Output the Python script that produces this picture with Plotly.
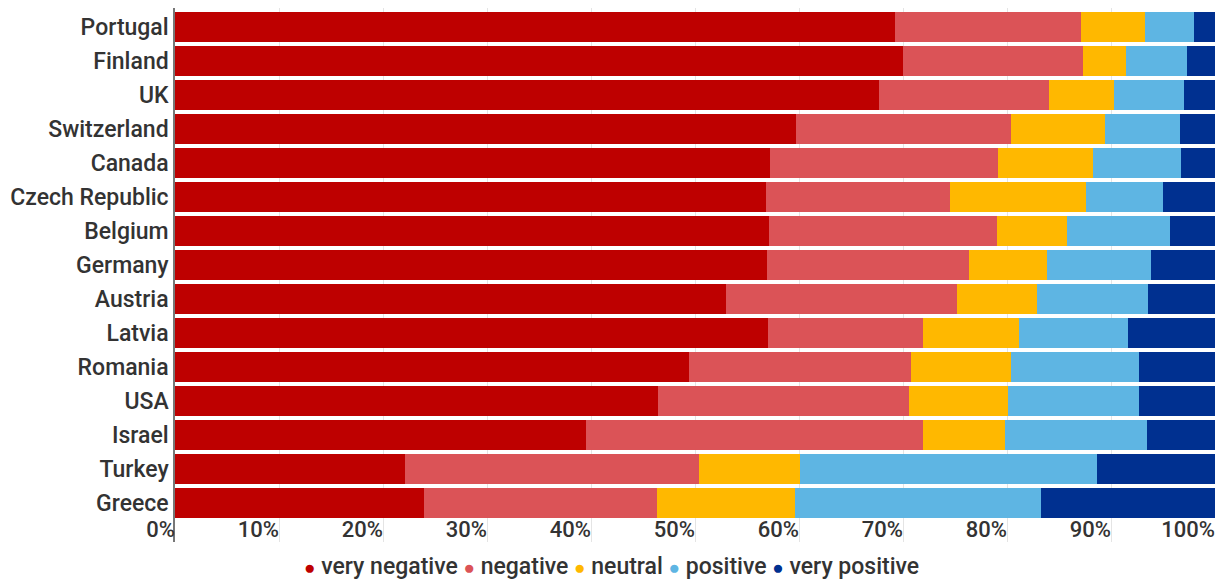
import plotly.graph_objects as go

countries = ["Portugal", "Finland", "UK", "Switzerland", "Canada", "Czech Republic",
             "Belgium", "Germany", "Austria", "Latvia", "Romania", "USA", "Israel",
             "Turkey", "Greece"]

very_negative = [69.2, 70.0, 67.7, 59.7, 57.2, 56.8, 57.1, 56.9, 53.0, 57.0, 49.4, 46.4, 39.5, 22.1, 23.9]
negative      = [17.9, 17.3, 16.3, 20.7, 21.9, 17.7, 21.9, 19.4, 22.2, 14.9, 21.4, 24.2, 32.4, 28.3, 22.4]
neutral       = [6.2, 4.1, 6.3, 9.0, 9.2, 13.1, 6.8, 7.5, 7.7, 9.3, 9.6, 9.5, 7.9, 9.7, 13.3]
positive      = [4.7, 5.9, 6.7, 7.2, 8.4, 7.4, 9.9, 10.0, 10.7, 10.4, 12.3, 12.6, 13.7, 28.6, 23.7]
very_positive = [2.0, 2.7, 3.0, 3.4, 3.3, 5.0, 4.3, 6.2, 6.4, 8.4, 7.3, 7.3, 6.5, 11.3, 16.7]

series_names = ["very negative", "negative", "neutral", "positive", "very positive"]
series_values = [very_negative, negative, neutral, positive, very_positive]
colors = ["#BE0000", "#DB5357", "#FFB800", "#5EB5E3", "#003090"]

x_tickvals = [0, 10, 20, 30, 40, 50, 60, 70, 80, 90, 100]
x_ticktext = ["0%", "10%", "20%", "30%", "40%", "50%", "60%", "70%", "80%", "90%", "100%"]

fig = go.Figure()
for name, vals, col in zip(series_names, series_values, colors):
    fig.add_trace(go.Bar(
        y=countries, x=vals, orientation="h", name=name,
        marker=dict(color=col, line=dict(width=0)),
        showlegend=False,
    ))

font_family = "Roboto, Arial, sans-serif"

# legend drawn as a single centred line of coloured dots + labels
legend_html = " ".join(
    f"<span style='color:{c};font-size:19px'>\u25CF</span> {n}"
    for n, c in zip(series_names, colors)
)
fig.add_annotation(
    text=legend_html, xref="paper", yref="paper",
    x=0.42, y=-0.045, xanchor="center", yanchor="middle",
    showarrow=False,
    font=dict(family=font_family, size=23, color="#333333", weight=500),
)

# the page body has an 8px margin, so the figure is sized/offset to fit the window
fig.update_layout(
    width=1209, height=572,
    barmode="stack", bargap=0.12,
    plot_bgcolor="white", paper_bgcolor="white",
    margin=dict(l=167, r=2, t=0, b=38),
    font=dict(family=font_family, size=22, color="#333333", weight=500),
    showlegend=False,
    xaxis=dict(
        range=[0, 100], tickmode="array", tickvals=x_tickvals, ticktext=x_ticktext,
        showgrid=True, gridcolor="#e4e4e4", gridwidth=1,
        zeroline=False, showline=False, ticks="",
        ticklabelposition="outside left", ticklabelstandoff=-28,
        tickfont=dict(family=font_family, size=22, color="#333333", weight=500),
        automargin=False, fixedrange=True,
    ),
    yaxis=dict(
        categoryorder="array", categoryarray=countries,
        range=[15.15, -0.56],
        showline=True, linecolor="#777777", linewidth=1.5,
        showgrid=False, zeroline=False, ticks="",
        tickfont=dict(family=font_family, size=23, color="#333333", weight=500),
        automargin=False, fixedrange=True,
    ),
)

fig.write_html("out.html")
